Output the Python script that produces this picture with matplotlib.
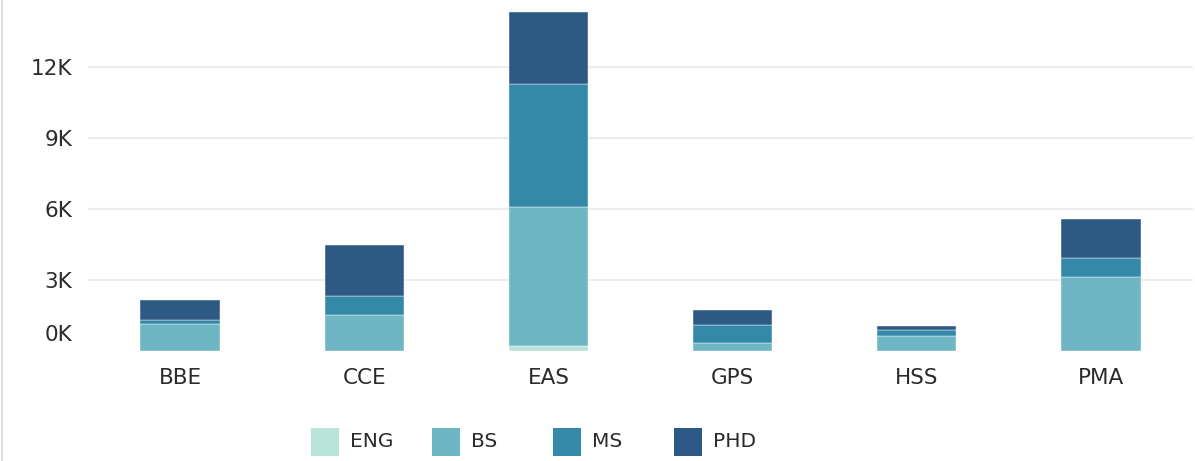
import numpy as np
import matplotlib.pyplot as plt
from matplotlib.patches import Rectangle

schools = ["BBE", "CCE", "EAS", "GPS", "HSS", "PMA"]
eng = [0, 0, 200, 0, 0, 0]
bs = [1150, 1520, 5880, 350, 630, 3120]
ms = [150, 800, 5190, 730, 260, 820]
phd = [850, 2150, 3030, 640, 180, 1620]

series_names = ["ENG", "BS", "MS", "PHD"]
colors = ["#b9e3d9", "#6fb6c4", "#3589a8", "#2d5985"]

plt.rcParams["font.family"] = ["DejaVu Sans"]
text_color = "#2b2b2b"

fig = plt.figure(figsize=(11.95, 4.61), dpi=100)
ax = fig.add_axes([88 / 1195, 110 / 461, 1105 / 1195, 346 / 461])

x = np.arange(len(schools))
bottom = np.zeros(len(schools))
for name, vals, c in zip(series_names, [eng, bs, ms, phd], colors):
    ax.bar(x, vals, bottom=bottom, width=0.43, color=c, label=name,
           edgecolor="white", linewidth=0.3)
    bottom += np.array(vals)

ax.set_xlim(-0.5, 5.5)
ax.set_ylim(0, 14600)

yticks = [3000, 6000, 9000, 12000]
ax.set_yticks(yticks)
ax.set_yticklabels([f"{int(t / 1000)}K" for t in yticks])
for t in yticks:
    ax.axhline(t, color="#ececec", linewidth=1.6, zorder=0)

# Tableau pushes the 0K label up above the baseline
ax.annotate("0K", xy=(0, 0), xycoords=("axes fraction", "data"),
            xytext=(-11.5, 11.5), textcoords="offset points",
            ha="right", va="center", fontsize=15.5, color=text_color)

ax.set_xticks(x)
ax.set_xticklabels(schools)
ax.tick_params(axis="both", length=0, labelsize=15.5, colors=text_color)
ax.tick_params(axis="x", pad=12)
ax.tick_params(axis="y", pad=11.5)

for s in ax.spines.values():
    s.set_visible(False)

# left border line of the worksheet
fig.add_artist(plt.Line2D([2 / 1195, 2 / 1195], [0, 1], color="#e0e0e0", linewidth=1.5))

# legend
W, H = 1195, 461
for i, (name, c) in enumerate(zip(series_names, colors)):
    x0 = 311 + i * 121
    fig.add_artist(Rectangle((x0 / W, (H - 456) / H), 28 / W, 28 / H,
                             transform=fig.transFigure, facecolor=c, edgecolor="none"))
    fig.text((x0 + 39) / W, (H - 441) / H, name, fontsize=14.5,
             color=text_color, va="center", ha="left")

plt.savefig("out.png", dpi=100)
